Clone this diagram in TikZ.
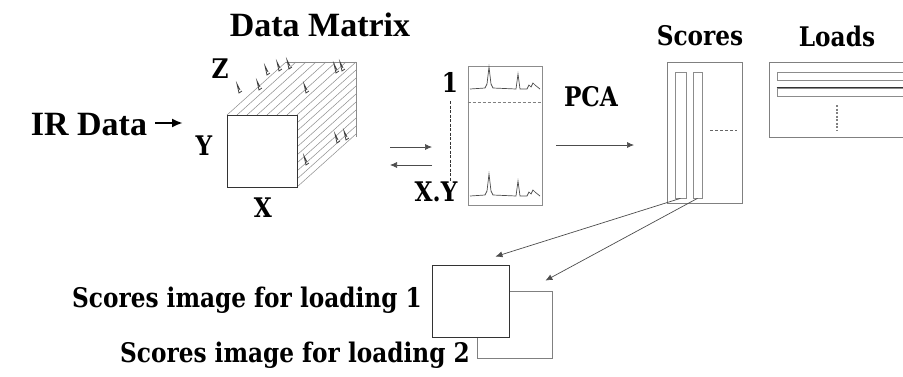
\documentclass[tikz,border=0pt]{standalone}
\usepackage{fontspec}
\setmainfont{Liberation Serif}
\newfontfamily\slabfont[FakeStretch=0.86]{DejaVu Serif}
\usetikzlibrary{arrows.meta,positioning,calc}

\tikzset{
  title/.style={font=\bfseries\fontsize{34}{34}\selectfont, inner sep=0pt},
  lbl/.style={font=\slabfont\bfseries\fontsize{27}{27}\selectfont, inner sep=0pt},
  frame/.style={draw=black!80, line width=0.9pt, inner sep=0pt, fill=white},
  pale/.style={draw=black!45, line width=0.7pt},
  hatch/.style={draw=black!45, line width=0.5pt},
  flow/.style={-{Latex[length=7pt,width=6pt]}, black!70, line width=0.7pt},
}

\begin{document}
\begin{tikzpicture}[x=1pt,y=-1pt]
  \useasboundingbox (0,0) rectangle (903,376);
  \clip (0,0) rectangle (903,376);

  % input and cube
  \node[title] (irdata) at (89,125) {IR Data};
  \coordinate (irout) at ($(irdata.east)+(8,-2)$);
  \coordinate (cubein) at (183,123);
  \draw[-{Latex[length=11pt,width=9pt]}, line width=2.2pt] (irout) -- (cubein);
  \node[title] (datamatrix) at (320,25) {Data Matrix};

  % hatched top and side of the cube
  \foreach \k in {1,...,9}
    \draw[hatch] (297,115+8*\k) -- ++(59,-53);
  \foreach \k in {0,...,6}
    \draw[hatch] (227+10*\k,115) -- ++(59,-53);
  \draw[hatch] (297,115) -- (356,62);
  \draw[pale, line width=0.9pt] (286,62) -- (356,62) -- (356,137);
  % spikes on the hatching
  \foreach \px/\py in {240/90, 260/87, 268/72, 280/68, 290/66, 307/90, 337/70, 343/68, 307/162, 338/140, 347/137}
    \draw[black!75, line width=0.8pt] (\px,\py) -- ++(-3,-6) -- ++(2,9) -- ++(3,-2);
  \node[frame, minimum width=70pt, minimum height=72pt] (front) at (262,151) {};
  \node[lbl] (zlab) at (220,69) {Z};
  \node[lbl] (ylab) at (204,146) {Y};
  \node[lbl] (xlab) at (263,208) {X};

  % unfolded spectra
  \node[draw=black!45, line width=0.8pt, minimum width=74pt, minimum height=139pt, inner sep=0pt] (spec) at (505,135.5) {};
  \foreach \dy in {0,107}
    \draw[black!70, line width=0.7pt, shift={(0,\dy)}]
      (470,89) -- (485,88) -- (487,84) -- (489,67) -- (491,84) -- (493,88) -- (516,89)
      -- (518,74) -- (520,89) -- (527,89) -- (529,85) -- (531,87) -- (533,83) -- (535,85) -- (540,89);
  \draw[black!50, line width=0.8pt, dash pattern=on 3pt off 2pt] (spec.west |- 0,102) -- (spec.east |- 0,102);
  \node[lbl] (one) at (450,82) {1};
  \node[lbl] (xy) at (436,192) {X.Y};
  \draw[black!80, line width=0.8pt, dash pattern=on 3pt off 1.5pt] (one.south) ++(0,9) -- (one.south |- xy.north);
  \coordinate (fwdA) at (390,147);
  \coordinate (fwdB) at (432,147);
  \coordinate (bckA) at (432,165);
  \coordinate (bckB) at (390,165);
  \draw[flow] (fwdA) -- (fwdB);
  \draw[flow] (bckA) -- (bckB);

  % decomposition
  \node[lbl] (pca) at (591,97) {PCA};
  \coordinate (pcaA) at (556,145);
  \coordinate (pcaB) at (634,145);
  \draw[flow] (pcaA) -- (pcaB);

  \node[lbl] (scoreslab) at (700,36) {Scores};
  \node[lbl] (loadslab) at (837,36) {Loads};
  \node[draw=black!50, line width=0.9pt, minimum width=75pt, minimum height=141pt, inner sep=0pt] (scores) at (704.5,132.5) {};
  \node[pale, minimum width=11pt, minimum height=126pt, inner sep=0pt] (col1) at (680.5,135) {};
  \node[pale, minimum width=9pt, minimum height=126pt, inner sep=0pt] (col2) at (697.5,135) {};
  \draw[black!60, line width=0.7pt, dash pattern=on 3pt off 2pt] (710,130) -- (737,130);

  \node[draw=black!50, line width=0.9pt, minimum width=141pt, minimum height=75pt, inner sep=0pt] (loads) at (839.5,99.5) {};
  \node[pale, minimum width=133pt, minimum height=8pt, inner sep=0pt] (row1) at (843.5,76) {};
  \node[pale, minimum width=133pt, minimum height=8pt, inner sep=0pt] (row2) at (843.5,92) {};
  \draw[black!80, line width=1.2pt] (row2.north west) -- (row2.north east);
  \draw[black!50, line width=1.2pt, dash pattern=on 2pt off 1.5pt] (837,105) -- (837,130);

  % score images
  \node[draw=black!50, line width=0.8pt, minimum width=75pt, minimum height=67pt, inner sep=0pt] (img2) at (514.5,324.5) {};
  \node[frame, minimum width=77pt, minimum height=72pt] (img1) at (470.5,301) {};
  \node[lbl, anchor=east] (img1lab) at (422,300) {Scores image for loading 1};
  \node[lbl, anchor=east] (img2lab) at (470,355) {Scores image for loading 2};
  \draw[flow] (col1.south) -- ($(img1.north east)+(-14,-8)$);
  \draw[flow] (col2.south) -- ($(img2.north east)+(-7,-10)$);
\end{tikzpicture}
\end{document}
